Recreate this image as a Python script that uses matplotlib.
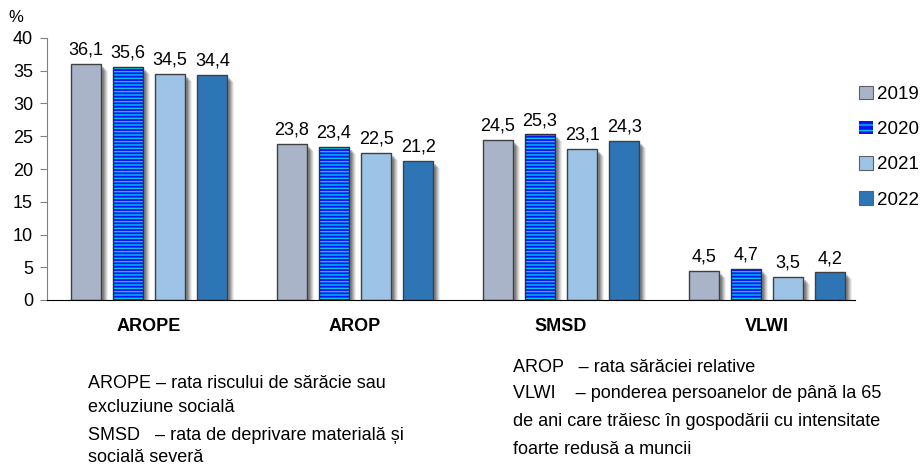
import matplotlib
matplotlib.use('Agg')
import matplotlib.pyplot as plt
from matplotlib.patches import Patch
import numpy as np

plt.rcParams['font.family'] = ['Liberation Sans', 'DejaVu Sans']

# date
categorii = ['AROPE', 'AROP', 'SMSD', 'VLWI']
ani = ['2019', '2020', '2021', '2022']
v2019 = [36.1, 23.8, 24.5, 4.5]
v2020 = [35.6, 23.4, 25.3, 4.7]
v2021 = [34.5, 22.5, 23.1, 3.5]
v2022 = [34.4, 21.2, 24.3, 4.2]
valori = [v2019, v2020, v2021, v2022]
culori = ['#A9B4C8', '#0A14F0', '#9DC3E6', '#2E75B6']
hasura = '#00C8F5'

fig = plt.figure(figsize=(9.23, 4.67), dpi=100)
ax = fig.add_axes([47/923, 1-300/467, (855-47)/923, (300-38)/467])

x = np.arange(len(categorii))
w = 0.146
pas = 0.205
px = 1/206  # un pixel pe orizontala, in unitati de date
py = 40/262  # un pixel pe verticala

for k, (an, vals) in enumerate(zip(ani, valori)):
    pos = x + (k - 1.5) * pas
    vals = np.array(vals)
    # umbra difuza
    for d, a in [(7, 0.08), (6, 0.12), (5, 0.16), (4, 0.2), (3, 0.25)]:
        ax.bar(pos + d*px, vals - d*py, w, color='#303030', alpha=a, linewidth=0, zorder=1)
    if an == '2020':
        ax.bar(pos, vals, w, color=culori[k], edgecolor=hasura, hatch='-----',
               linewidth=0, zorder=2)
        ax.bar(pos, vals, w, fill=False, edgecolor='#303030', linewidth=1, zorder=3)
    else:
        ax.bar(pos, vals, w, color=culori[k], edgecolor='#404040', linewidth=1, zorder=2)
    for p, v in zip(pos, vals):
        ax.text(p, v + 0.8, f'{v:.1f}'.replace('.', ','), ha='center', va='bottom',
                fontsize=13)

ax.set_xlim(-0.495, 3.427)
ax.set_ylim(0, 40)
ax.set_yticks(range(0, 41, 5))
ax.tick_params(axis='y', labelsize=13, length=5, color='#808080', pad=5)
ax.set_xticks(x)
ax.set_xticklabels(categorii, fontsize=13, fontweight='bold')
ax.tick_params(axis='x', length=0, pad=13)
ax.spines['top'].set_visible(False)
ax.spines['right'].set_visible(False)
ax.spines['left'].set_color('#808080')
ax.spines['bottom'].set_color('black')
fig.text(8/923, 1-18/467, '%', fontsize=12, va='center')

handles = []
for k, an in enumerate(ani):
    if an == '2020':
        handles.append(Patch(facecolor=culori[k], edgecolor=hasura, hatch='---',
                             linewidth=0, label=an))
    else:
        handles.append(Patch(facecolor=culori[k], edgecolor='#606060', linewidth=0.8,
                             label=an))
ax.legend(handles=handles, loc='upper left', bbox_to_anchor=(1.0, 0.833), frameon=False,
          fontsize=13.5, handlelength=0.75, handleheight=0.75, handletextpad=0.25,
          labelspacing=0.95, borderaxespad=0, borderpad=0.2)

# note explicative
fs = 13
fig.text(88/923, 1-384/467, 'AROPE – rata riscului de sărăcie sau', fontsize=fs, va='center')
fig.text(88/923, 1-408/467, 'excluziune socială', fontsize=fs, va='center')
fig.text(88/923, 1-436/467, 'SMSD   – rata de deprivare materială și', fontsize=fs, va='center')
fig.text(88/923, 1-458/467, 'socială severă', fontsize=fs, va='center')
fig.text(513/923, 1-368/467, 'AROP   – rata sărăciei relative', fontsize=fs, va='center')
fig.text(513/923, 1-393/467, 'VLWI    – ponderea persoanelor de până la 65', fontsize=fs, va='center')
fig.text(513/923, 1-421/467, 'de ani care trăiesc în gospodării cu intensitate', fontsize=fs, va='center')
fig.text(513/923, 1-449/467, 'foarte redusă a muncii', fontsize=fs, va='center')

fig.savefig('out.png', dpi=100)
